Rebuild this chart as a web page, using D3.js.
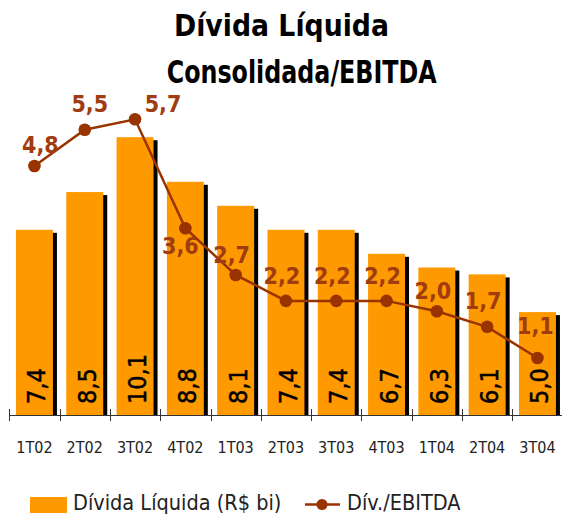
<!DOCTYPE html>
<html>
<head>
<meta charset="utf-8">
<script src="https://cdn.jsdelivr.net/npm/d3@7"></script>
<style>
  html, body { margin: 0; padding: 0; background: #fff; }
  #chart svg { display: block; }
</style>
</head>
<body>
<div id="chart"></div>
<script>
// =================================================================
// DATA
// =================================================================
const quarters = ["1T02", "2T02", "3T02", "4T02", "1T03", "2T03", "3T03", "4T03", "1T04", "2T04", "3T04"];
const dividaLiquida = [7.4, 8.5, 10.1, 8.8, 8.1, 7.4, 7.4, 6.7, 6.3, 6.1, 5.0];
const divEbitda = [4.8, 5.5, 5.7, 3.6, 2.7, 2.2, 2.2, 2.2, 2.0, 1.7, 1.1];
const barLabels = ["7,4", "8,5", "10,1", "8,8", "8,1", "7,4", "7,4", "6,7", "6,3", "6,1", "5,0"];
const lineLabels = ["4,8", "5,5", "5,7", "3,6", "2,7", "2,2", "2,2", "2,2", "2,0", "1,7", "1,1"];
const titleLines = ["Dívida Líquida", "Consolidada/EBITDA"];
const legendLabels = ["Dívida Líquida (R$ bi)", "Dív./EBITDA"];

window.addEventListener('DOMContentLoaded', () => {

    const width = 562;
    const height = 514;
    const baseY = 415;
    const orange = "#FF9900";
    const brown = "#993300";
    const font = "'DejaVu Sans Condensed', 'DejaVu Sans', sans-serif";

    // nudges for the ratio labels (they were placed by hand in the original)
    const labelNudge = [[6, -13], [5, -18], [28, -7], [-5, 26], [-4, -12], [-4, -17], [-4, -17], [-4, -17], [-4, -12], [-4, -18], [-2, -24]];

    const svg = d3.select("#chart").append("svg")
        .attr("width", width)
        .attr("height", height);

    // =================================================================
    // SCALES
    // =================================================================
    const x = d3.scaleBand()
        .domain(quarters)
        .range([9.3, 562.6])
        .paddingInner(0.265)
        .paddingOuter(0.1325);

    const yBar = d3.scaleLinear().domain([2, 14.1]).range([baseY, 0]);
    const yLine = d3.scaleLinear().domain([0, 8]).range([baseY, 0]);

    // =================================================================
    // TITLE
    // =================================================================
    svg.append("text")
        .attr("x", 281.5).attr("y", 36)
        .attr("text-anchor", "middle")
        .attr("textLength", 215).attr("lengthAdjust", "spacingAndGlyphs")
        .style("font-family", font).style("font-weight", "bold").style("font-size", "31px")
        .text(titleLines[0]);
    svg.append("text")
        .attr("x", 301.7).attr("y", 83)
        .attr("text-anchor", "middle")
        .attr("textLength", 270).attr("lengthAdjust", "spacingAndGlyphs")
        .style("font-family", font).style("font-weight", "bold").style("font-size", "32px")
        .text(titleLines[1]);

    // =================================================================
    // BARS (with black drop shadow)
    // =================================================================
    const bars = svg.append("g");
    bars.selectAll("rect.shadow")
        .data(dividaLiquida)
        .join("rect")
        .attr("class", "shadow")
        .attr("x", (d, i) => x(quarters[i]) + 4)
        .attr("y", d => yBar(d) + 3)
        .attr("width", x.bandwidth())
        .attr("height", d => baseY + 1 - (yBar(d) + 3))
        .attr("fill", "#000");

    bars.selectAll("rect.bar")
        .data(dividaLiquida)
        .join("rect")
        .attr("class", "bar")
        .attr("x", (d, i) => x(quarters[i]))
        .attr("y", d => yBar(d))
        .attr("width", x.bandwidth())
        .attr("height", d => baseY - yBar(d))
        .attr("fill", orange);

    bars.selectAll("text")
        .data(barLabels)
        .join("text")
        .attr("transform", (d, i) => `translate(${x(quarters[i]) + x.bandwidth() / 2 + 11},${baseY - 11}) rotate(-90)`)
        .style("font-family", font).style("font-size", "25px").style("fill", "#000")
        .style("stroke", "#000").style("stroke-width", 0.5)
        .text(d => d);

    // =================================================================
    // AXIS
    // =================================================================
    const axis = svg.append("g").attr("stroke", "#333").attr("stroke-width", 1);
    axis.append("line")
        .attr("x1", x.range()[0]).attr("x2", width)
        .attr("y1", baseY + 0.5).attr("y2", baseY + 0.5);
    axis.selectAll("line.tick")
        .data(d3.range(quarters.length + 1))
        .join("line")
        .attr("class", "tick")
        .attr("x1", i => Math.round(x.range()[0] + i * x.step()) + 0.5)
        .attr("x2", i => Math.round(x.range()[0] + i * x.step()) + 0.5)
        .attr("y1", baseY - 6).attr("y2", baseY + 6);

    svg.append("g").selectAll("text")
        .data(quarters)
        .join("text")
        .attr("x", d => x(d) + x.bandwidth() / 2)
        .attr("y", 453)
        .attr("text-anchor", "middle")
        .style("font-family", font).style("font-size", "16px").style("fill", "#222")
        .text(d => d);

    // =================================================================
    // RATIO LINE
    // =================================================================
    const cx = i => x(quarters[i]) + x.bandwidth() / 2;
    const line = d3.line()
        .x((d, i) => cx(i))
        .y(d => yLine(d));

    svg.append("path")
        .datum(divEbitda)
        .attr("d", line)
        .attr("fill", "none")
        .attr("stroke", brown)
        .attr("stroke-width", 2.5);

    svg.append("g").selectAll("circle")
        .data(divEbitda)
        .join("circle")
        .attr("cx", (d, i) => cx(i))
        .attr("cy", d => yLine(d))
        .attr("r", 6.3)
        .attr("fill", brown);

    svg.append("g").selectAll("text")
        .data(divEbitda)
        .join("text")
        .attr("x", (d, i) => cx(i) + labelNudge[i][0])
        .attr("y", (d, i) => yLine(d) + labelNudge[i][1])
        .attr("text-anchor", "middle")
        .style("font-family", font).style("font-weight", "bold").style("font-size", "23px")
        .style("fill", "#A03C10")
        .text((d, i) => lineLabels[i]);

    // =================================================================
    // LEGEND
    // =================================================================
    const legend = svg.append("g");
    legend.append("rect")
        .attr("x", 30).attr("y", 497).attr("width", 37).attr("height", 16)
        .attr("fill", orange);
    legend.append("text")
        .attr("x", 73).attr("y", 510)
        .style("font-family", font).style("font-size", "21.5px").style("fill", "#222")
        .text(legendLabels[0]);
    legend.append("line")
        .attr("x1", 305).attr("x2", 340).attr("y1", 504.5).attr("y2", 504.5)
        .attr("stroke", brown).attr("stroke-width", 2.5);
    legend.append("circle")
        .attr("cx", 322).attr("cy", 504.5).attr("r", 5.5)
        .attr("fill", brown);
    legend.append("text")
        .attr("x", 347).attr("y", 510)
        .style("font-family", font).style("font-size", "21.5px").style("fill", "#222")
        .text(legendLabels[1]);

});
</script>
</body>
</html>
